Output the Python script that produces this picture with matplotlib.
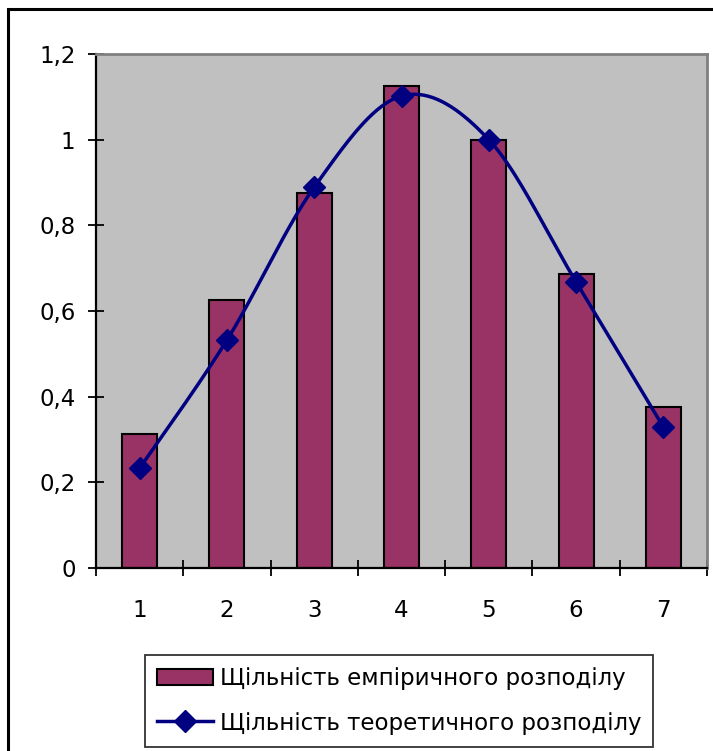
import numpy as np
import matplotlib
matplotlib.use("Agg")
import matplotlib.pyplot as plt
from matplotlib.lines import Line2D
from matplotlib.patches import Patch, Rectangle

plt.rcParams['font.family'] = ['DejaVu Sans']

categories = [1, 2, 3, 4, 5, 6, 7]
empirical = [0.3125, 0.625, 0.875, 1.125, 1.0, 0.6875, 0.375]
theoretical = [0.233, 0.532, 0.889, 1.102, 1.0, 0.668, 0.329]
y_ticks = [0, 0.2, 0.4, 0.6, 0.8, 1.0, 1.2]
y_tick_labels = ['0', '0,2', '0,4', '0,6', '0,8', '1', '1,2']
label_emp = 'Щільність емпіричного розподілу'
label_theo = 'Щільність теоретичного розподілу'

BAR_COLOR = '#993366'
LINE_COLOR = '#000080'
PLOT_BG = '#C0C0C0'
FONT_SIZE = 16.5


def smooth_curve(xs, ys, n=40):
    """Catmull-Rom style Bezier smoothing through every point."""
    pts = np.column_stack([xs, ys]).astype(float)
    out = [pts[0]]
    m = len(pts)
    for i in range(m - 1):
        p0 = pts[max(i - 1, 0)]
        p1 = pts[i]
        p2 = pts[i + 1]
        p3 = pts[min(i + 2, m - 1)]
        c1 = p1 + (p2 - p0) / 6.0
        c2 = p2 - (p3 - p1) / 6.0
        t = np.linspace(0, 1, n)[1:, None]
        seg = ((1 - t) ** 3) * p1 + 3 * ((1 - t) ** 2) * t * c1 \
            + 3 * (1 - t) * t ** 2 * c2 + t ** 3 * p2
        out.extend(seg)
    out = np.array(out)
    return out[:, 0], out[:, 1]


fig = plt.figure(figsize=(7.13, 7.51), dpi=100)
ax = fig.add_axes([96 / 713, 1 - 568 / 751, 611 / 713, 514 / 751])
ax.set_facecolor(PLOT_BG)

ax.bar(categories, empirical, width=0.4, color=BAR_COLOR,
       edgecolor='black', linewidth=1.5, zorder=2)

sx, sy = smooth_curve(categories, theoretical)
ax.plot(sx, sy, color=LINE_COLOR, linewidth=2.5, zorder=3,
        solid_capstyle='round')
ax.plot(categories, theoretical, linestyle='none', marker='D',
        markersize=11, color=LINE_COLOR, zorder=4)

ax.set_xlim(0.5, 7.5)
ax.set_ylim(0, 1.2)

# category boundaries carry the tick marks, centres carry the labels
ax.set_xticks(np.arange(0.5, 8.0, 1.0))
ax.set_xticklabels([])
ax.set_xticks(categories, minor=True)
ax.set_xticklabels([str(c) for c in categories], minor=True)
ax.tick_params(axis='x', which='major', direction='inout', length=11.5,
               width=1.3, color='black')
ax.tick_params(axis='x', which='minor', length=0, pad=22,
               labelsize=FONT_SIZE, labelcolor='black')

ax.set_yticks(y_ticks)
ax.set_yticklabels(y_tick_labels)
ax.tick_params(axis='y', direction='inout', length=11.5, width=1.3,
               pad=9, labelsize=FONT_SIZE, color='black')

for side in ('left', 'bottom'):
    ax.spines[side].set_color('black')
    ax.spines[side].set_linewidth(1.6)
for side in ('top', 'right'):
    ax.spines[side].set_color('#808080')
    ax.spines[side].set_linewidth(2.0)

handles = [
    Patch(facecolor=BAR_COLOR, edgecolor='black', linewidth=1.5),
    Line2D([0], [0], color=LINE_COLOR, linewidth=2.5, marker='D',
           markersize=11),
]
leg = fig.legend(handles, [label_emp, label_theo], loc='upper left',
                 bbox_to_anchor=(145 / 713, 1 - 655 / 751),
                 fontsize=FONT_SIZE, frameon=True, fancybox=False,
                 shadow=False, handlelength=2.45, handleheight=0.75,
                 handletextpad=0.3, borderpad=0.52, labelspacing=0.95,
                 borderaxespad=0)
leg.get_frame().set_edgecolor('black')
leg.get_frame().set_linewidth(1.3)

# outer chart border (left and top edges visible)
fig.patches.append(Rectangle((8 / 713, -0.05), 1.2, 1 - 9 / 751 + 0.05,
                             transform=fig.transFigure, fill=False,
                             edgecolor='black', linewidth=2.2))

fig.savefig('out.png', dpi=100, facecolor='white')
